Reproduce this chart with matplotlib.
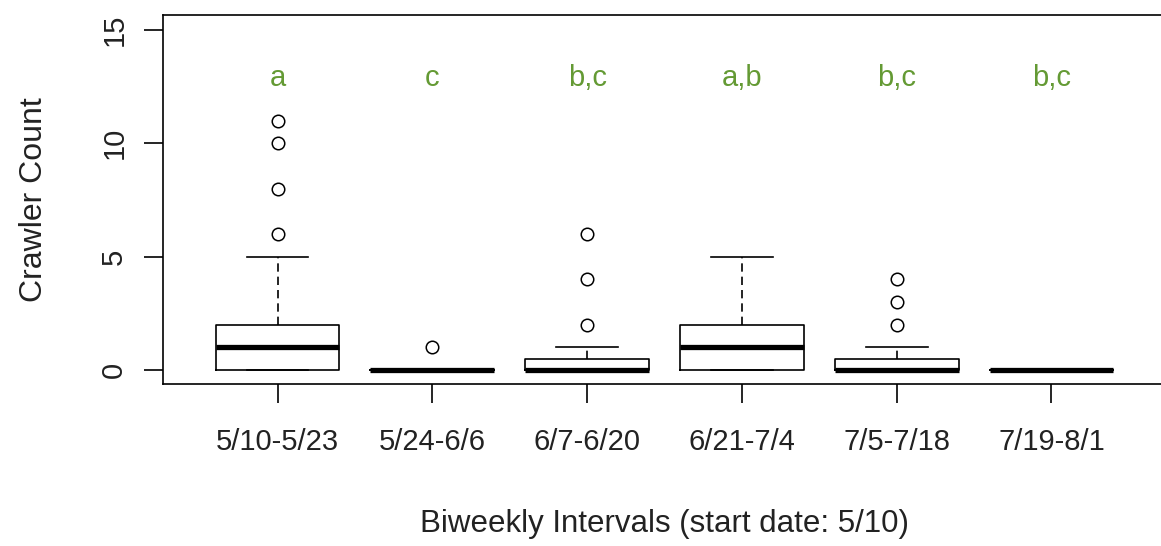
import matplotlib
matplotlib.use("Agg")
from matplotlib import pyplot as plt

plt.rcParams['font.family'] = ['Liberation Sans', 'DejaVu Sans']

# biweekly intervals and box summaries
intervals = ["5/10-5/23", "5/24-6/6", "6/7-6/20", "6/21-7/4", "7/5-7/18", "7/19-8/1"]
q1 = [0, 0, 0, 0, 0, 0]
medians = [1, 0, 0, 1, 0, 0]
q3 = [2, 0, 0.5, 2, 0.5, 0]
whisker_low = [0, 0, 0, 0, 0, 0]
whisker_high = [5, 0, 1, 5, 1, 0]
outliers = [[6, 8, 10, 11], [1], [2, 4, 6], [], [2, 3, 4], []]
groups = ["a", "c", "b,c", "a,b", "b,c", "b,c"]
group_y = 12.9

stats = []
for i in range(len(intervals)):
    stats.append({"label": intervals[i], "q1": q1[i], "med": medians[i],
                  "q3": q3[i], "whislo": whisker_low[i],
                  "whishi": whisker_high[i], "fliers": outliers[i]})

fig = plt.figure(figsize=(11.61, 5.46), dpi=100)
ax = fig.add_axes([163 / 1161, 1 - 384 / 546, (1166 - 163) / 1161, (384 - 15) / 546])

pos = list(range(1, len(intervals) + 1))
ax.bxp(stats, positions=pos, widths=0.8, showfliers=True,
       boxprops=dict(color="black", linewidth=1.2),
       medianprops=dict(color="black", linewidth=3.8, solid_capstyle="butt"),
       whiskerprops=dict(color="black", linewidth=1.2, linestyle=(0, (5, 3))),
       capprops=dict(color="black", linewidth=1.2),
       capwidths=0.4,
       flierprops=dict(marker="o", markerfacecolor="none", markeredgecolor="black",
                       markersize=9, markeredgewidth=1.1, linestyle="none"))

for x, g in zip(pos, groups):
    ax.text(x, group_y, g, ha="center", va="center", fontsize=21, color="#649a34")

ax.set_xlim(0.26, 6.74)
ax.set_ylim(-0.62, 15.66)
ax.set_yticks([0, 5, 10, 15])
ax.set_yticklabels(["0", "5", "10", "15"], rotation=90, va="center")
ax.set_xticks(pos)
ax.set_xticklabels(intervals)
ax.tick_params(axis="both", labelsize=21, length=14, width=1.2, color="black",
               labelcolor="#222222")
ax.tick_params(axis="x", pad=18)
ax.tick_params(axis="y", pad=11)
for s in ax.spines.values():
    s.set_linewidth(1.2)

ax.set_xlabel("Biweekly Intervals (start date: 5/10)", fontsize=22.5, color="#222222",
              labelpad=38)
ax.set_ylabel("Crawler Count", fontsize=23, color="#222222", labelpad=37)

fig.savefig("out.png", dpi=100)
